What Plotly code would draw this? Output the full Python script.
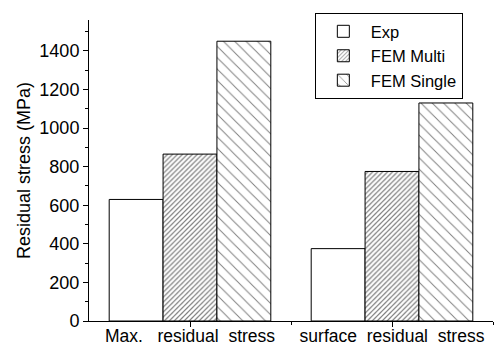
import plotly.graph_objects as go

categories = ["Max.   residual  stress", "surface  residual  stress"]
cat_pos = [1, 2]
exp_vals = [630, 375]
fem_multi = [865, 775]
fem_single = [1450, 1130]

font = dict(family="Liberation Sans, Arial, sans-serif", size=18, color="black")

fig = go.Figure()
fig.add_trace(go.Bar(name="Exp", x=cat_pos, y=exp_vals,
                     marker=dict(color="white", line=dict(color="black", width=1))))
fig.add_trace(go.Bar(name="FEM Multi", x=cat_pos, y=fem_multi,
                     marker=dict(color="white", line=dict(color="black", width=1),
                                 pattern=dict(shape="/", size=3.5, solidity=0.35,
                                              fgcolor="black", bgcolor="white"))))
fig.add_trace(go.Bar(name="FEM Single", x=cat_pos, y=fem_single,
                     marker=dict(color="white", line=dict(color="black", width=1),
                                 pattern=dict(shape="\\", size=8, solidity=0.12,
                                              fgcolor="black", bgcolor="white"))))

fig.update_layout(
    width=497, height=349,
    margin=dict(l=89, r=4, t=20, b=28),
    paper_bgcolor="white", plot_bgcolor="white",
    font=font,
    barmode="group", bargap=0.2, bargroupgap=0,
    legend=dict(x=0.559, y=1.023, xanchor="left", yanchor="top",
                bordercolor="black", borderwidth=1, bgcolor="white",
                font=dict(size=16.5), tracegroupgap=0, itemwidth=45),
    showlegend=True,
)
fig.update_xaxes(
    range=[0.5, 2.5], tickmode="array", tickvals=cat_pos, ticktext=categories,
    showline=True, linecolor="black", linewidth=1, ticks="outside", ticklen=5,
    tickcolor="black", showgrid=False, zeroline=False, automargin=False,
    tickfont=dict(size=17.5), ticklabelstandoff=-6,
    minor=dict(tickmode="array", tickvals=[1.5, 2.5], ticklen=3, ticks="outside", tickcolor="black"),
)
fig.update_yaxes(
    range=[0, 1560], tickmode="linear", tick0=0, dtick=200,
    showline=True, linecolor="black", linewidth=1, ticks="outside", ticklen=5,
    tickcolor="black", showgrid=False, zeroline=False, automargin=False,
    minor=dict(dtick=100, ticklen=3, ticks="outside", tickcolor="black"),
    title=dict(text="Residual stress (MPa)", standoff=4, font=dict(size=18)),
)

fig.write_html("out.html")
